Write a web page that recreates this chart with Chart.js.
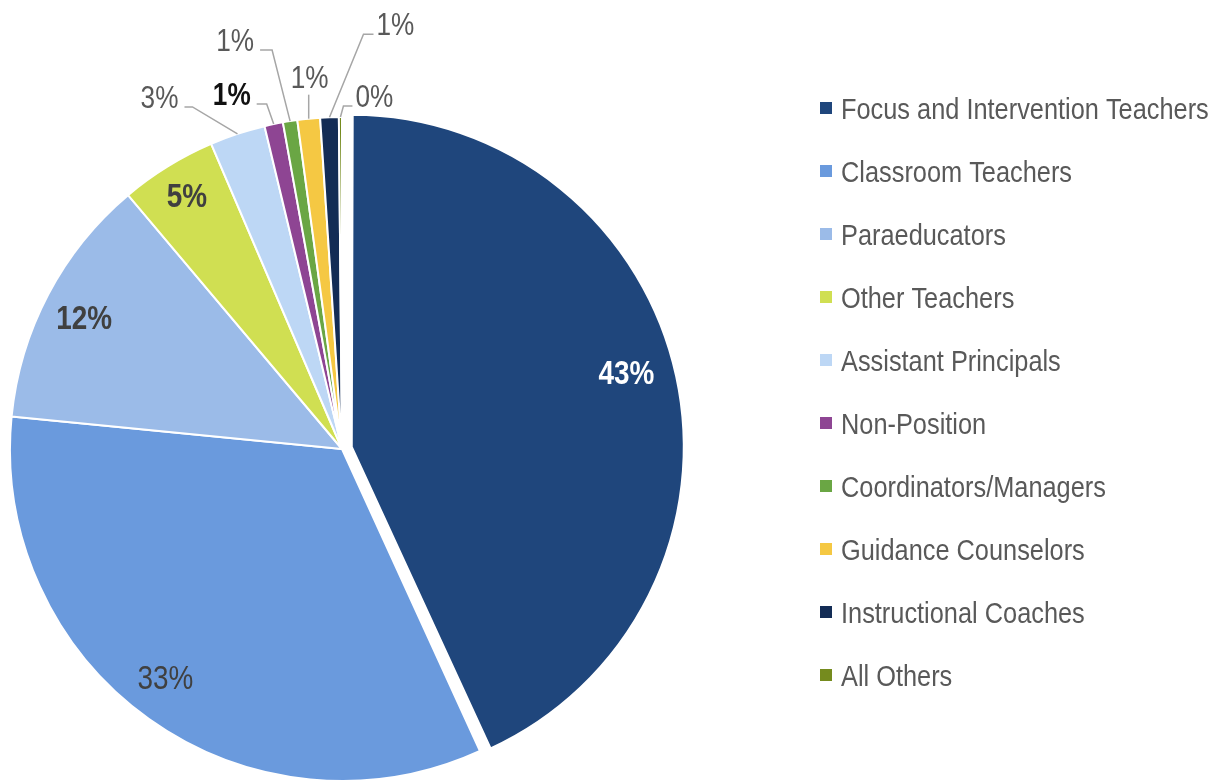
<!DOCTYPE html>
<html>
<head>
<meta charset="utf-8">
<script src="https://cdn.jsdelivr.net/npm/chart.js@4/dist/chart.umd.min.js"></script>
<style>
  html, body { margin: 0; padding: 0; background: #ffffff; }
  #wrap { width: 1213px; height: 781px; position: relative; }
</style>
</head>
<body>
<div id="wrap"><canvas id="c" width="1213" height="781"></canvas></div>
<script>
// ---- Data ----
const categories = [
  "Focus and Intervention Teachers",
  "Classroom Teachers",
  "Paraeducators",
  "Other Teachers",
  "Assistant Principals",
  "Non-Position",
  "Coordinators/Managers",
  "Guidance Counselors",
  "Instructional Coaches",
  "All Others"
];
const shares = [43.2, 33.4, 12.3, 4.7, 2.7, 0.9, 0.7, 1.1, 0.9, 0.15];
const percentLabels = ["43%", "33%", "12%", "5%", "3%", "1%", "1%", "1%", "1%", "0%"];
const sliceColors = ["#1F467C", "#6A9ADD", "#9BBBE8", "#D0DF52", "#BDD7F5", "#8E4593", "#6AA644", "#F5C843", "#132C55", "#758B1E"];

// ---- Styles ----
const FONT = "'Liberation Sans', Arial, sans-serif";
const NARROW = 0.845; // horizontal condensing to mimic a narrow face
const innerStyle = [
  {color: "#ffffff", weight: "bold", rf: 0.855, da: -2.4},
  {color: "#404040", weight: "normal", rf: 0.875, da: 1.9},
  {color: "#404040", weight: "bold", rf: 0.868, da: -1.2},
  {color: "#404040", weight: "bold", rf: 0.89, da: 0}
];
const callouts = {
  4: {ex: -45, ey: -27, h: -8, align: "right", color: "#595959", weight: "normal"},
  5: {ex: -7, ey: -20, h: -10, align: "right", color: "#111111", weight: "bold"},
  6: {ex: -18, ey: -71, h: -12, align: "right", color: "#595959", weight: "normal"},
  7: {ex: 0, ey: -24, h: 0, align: "center", color: "#595959", weight: "normal"},
  8: {ex: 34, ey: -83, h: 10, align: "left", color: "#595959", weight: "normal"},
  9: {ex: 3, ey: -11, h: 9, align: "left", color: "#595959", weight: "normal"}
};

function narrowText(ctx, text, x, y, size, weight, color, align, baseline) {
  ctx.save();
  ctx.translate(x, y);
  ctx.scale(NARROW, 1);
  ctx.font = weight + " " + size + "px " + FONT;
  ctx.fillStyle = color;
  ctx.textAlign = align;
  ctx.textBaseline = baseline;
  ctx.fillText(text, 0, 0);
  ctx.restore();
}

// keep exploded slices at the same radius as the rest of the pie
const keepRadiusPlugin = {
  id: "keepRadius",
  beforeDatasetsDraw(chart) {
    const meta = chart.getDatasetMeta(0);
    const base = meta.controller.outerRadius;
    meta.data.forEach((arc) => {
      const off = (arc.options.offset || 0) / 4;
      const circ = arc.endAngle - arc.startAngle;
      const fix = 1 - Math.sin(Math.min(Math.PI, circ || 0));
      arc.outerRadius = base - off * fix;
    });
  }
};

const labelPlugin = {
  id: "pieLabels",
  afterDatasetsDraw(chart) {
    const ctx = chart.ctx;
    const meta = chart.getDatasetMeta(0);
    const R = meta.controller.outerRadius;
    meta.data.forEach((arc, i) => {
      const p = arc.getProps(["x", "y", "startAngle", "endAngle"], true);
      const mid = (p.startAngle + p.endAngle) / 2;
      const off = (arc.options.offset || 0) / 4;
      const cx = p.x + Math.cos(mid) * off, cy = p.y + Math.sin(mid) * off;
      if (i < 4) {
        const s = innerStyle[i];
        const a = mid + s.da * Math.PI / 180;
        const r = R * s.rf;
        narrowText(ctx, percentLabels[i], cx + Math.cos(a) * r, cy + Math.sin(a) * r, 33, s.weight, s.color, "center", "middle");
      } else {
        const c = callouts[i];
        const sx = cx + Math.cos(mid) * R, sy = cy + Math.sin(mid) * R;
        const ex = sx + c.ex, ey = sy + c.ey;
        const hx = ex + c.h;
        ctx.save();
        ctx.strokeStyle = "#A6A6A6";
        ctx.lineWidth = 1.5;
        ctx.beginPath();
        ctx.moveTo(sx, sy);
        ctx.lineTo(ex, ey);
        if (c.h !== 0) ctx.lineTo(hx, ey);
        ctx.stroke();
        ctx.restore();
        if (c.align === "right") {
          narrowText(ctx, percentLabels[i], hx - 6, ey + 1, 31, c.weight, c.color, "right", "alphabetic");
        } else if (c.align === "left") {
          narrowText(ctx, percentLabels[i], hx + 3, ey + 1, 31, c.weight, c.color, "left", "alphabetic");
        } else {
          narrowText(ctx, percentLabels[i], ex + 1, ey - 7, 31, c.weight, c.color, "center", "alphabetic");
        }
      }
    });
  }
};

const legendPlugin = {
  id: "sideLegend",
  afterDraw(chart) {
    const ctx = chart.ctx;
    const labels = chart.data.labels;
    const colors = chart.data.datasets[0].backgroundColor;
    labels.forEach((lab, i) => {
      const y = 108 + i * 63;
      ctx.save();
      ctx.fillStyle = colors[i];
      ctx.fillRect(820, y - 6, 12, 12);
      ctx.restore();
      narrowText(ctx, lab, 841, y + 10.5, 30, "normal", "#595959", "left", "alphabetic");
    });
  }
};

new Chart(document.getElementById("c"), {
  type: "pie",
  data: {
    labels: categories,
    datasets: [{
      data: shares,
      backgroundColor: sliceColors,
      borderColor: "#ffffff",
      borderWidth: 2,
      offset: [40, 0, 0, 0, 0, 0, 0, 0, 0, 0],
      clip: false
    }]
  },
  options: {
    responsive: false,
    devicePixelRatio: 1,
    animation: false,
    radius: 332,
    layout: { padding: { left: 0, right: 529, top: 117, bottom: 0 } },
    plugins: {
      legend: { display: false },
      tooltip: { enabled: false }
    }
  },
  plugins: [keepRadiusPlugin, labelPlugin, legendPlugin]
});
</script>
</body>
</html>
